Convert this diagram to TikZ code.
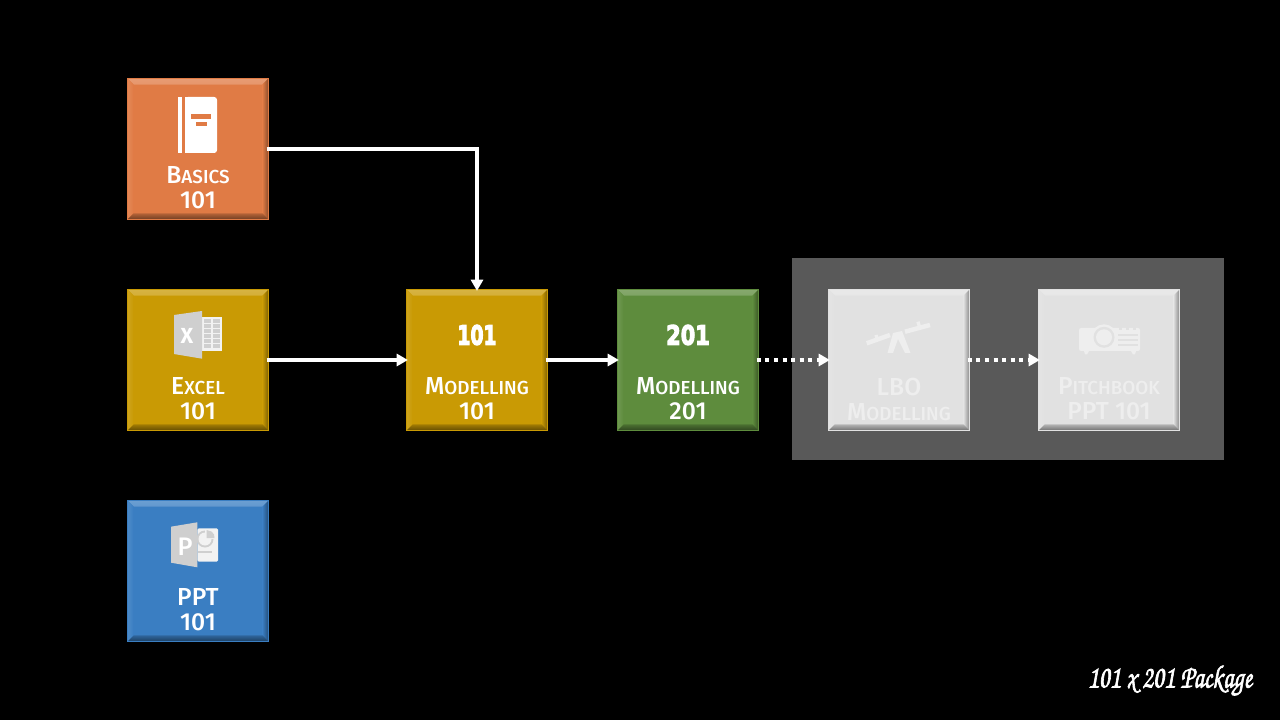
\documentclass[tikz,border=0pt]{standalone}
\usepackage{fontspec}
\setmainfont{Fira Sans}[UprightFont=* Medium, BoldFont=* Bold]
\newfontfamily\numfont{DejaVu Sans}[UprightFont=* Bold]
\usetikzlibrary{arrows.meta}

\definecolor{basicsorange}{HTML}{E07B45}
\definecolor{tilegold}{HTML}{C99A04}
\definecolor{tilegreen}{HTML}{5E8C3D}
\definecolor{tileblue}{HTML}{3A7EC2}
\definecolor{tilegray}{HTML}{E1E1E1}
\definecolor{fadedtext}{HTML}{EEEEEE}
\definecolor{iconcover}{HTML}{CFCFCF}
\definecolor{iconsheet}{HTML}{F2F2F2}

\newcommand{\smcap}[2]{#1{\fontsize{13.4}{13.4}\selectfont #2}}
\newcommand{\heavytext}[2]{\special{pdf:code q 2 Tr #1 w 1 1 1 RG 1 1 1 rg}#2\special{pdf:code Q}}

\tikzset{
  tile/.style={
    fill=#1, draw=#1, line width=0.4pt, minimum size=3.52cm, inner sep=0pt,
    path picture={
      \coordinate (nw) at (path picture bounding box.north west);
      \coordinate (ne) at (path picture bounding box.north east);
      \coordinate (sw) at (path picture bounding box.south west);
      \coordinate (se) at (path picture bounding box.south east);
      \coordinate (inw) at ([shift={(0.15cm,-0.15cm)}]nw);
      \coordinate (ine) at ([shift={(-0.15cm,-0.15cm)}]ne);
      \coordinate (isw) at ([shift={(0.15cm,0.15cm)}]sw);
      \coordinate (ise) at ([shift={(-0.15cm,0.15cm)}]se);
      \shade[top color=#1!75!white, bottom color=#1!80!white] (nw) -- (ne) -- (ine) -- (inw) -- cycle;
      \shade[left color=#1!90!white, right color=#1] (nw) -- (sw) -- (isw) -- (inw) -- cycle;
      \shade[left color=#1, right color=#1!62!black] (ne) -- (se) -- (ise) -- (ine) -- cycle;
      \shade[top color=#1!80!black, bottom color=#1!50!black] (sw) -- (se) -- (ise) -- (isw) -- cycle;
    }
  },
  tiletext/.style={text=white, align=center, font=\fontsize{17.5}{17.8}\selectfont, inner sep=0pt},
  fadedtiletext/.style={tiletext, text=fadedtext},
  bignum/.style={text=white, font=\numfont\fontsize{19}{20}\selectfont, inner sep=0pt},
  link/.style={white, line width=0.1cm, shorten <=-0.05cm, shorten >=-0.04cm, -{Triangle[length=0.28cm,width=0.3cm]}},
  dotlink/.style={link, dash pattern=on 0.1cm off 0.115cm}
}

\begin{document}
\begin{tikzpicture}[x=0.025cm,y=-0.025cm]
  \fill[black] (0,0) rectangle (1280,720);
  \useasboundingbox (0,0) rectangle (1280,720);
  \fill[black!65] (792,258) rectangle (1224,460);

  % tiles
  \node[tile=basicsorange] (basics) at (198,149) {};
  \node[tile=tilegold] (excel) at (198,360) {};
  \node[tile=tileblue] (ppt) at (198,571) {};
  \node[tile=tilegold] (modA) at (477,360) {};
  \node[tile=tilegreen] (modB) at (688,360) {};
  \node[tile=tilegray] (lbo) at (899,360) {};
  \node[tile=tilegray] (pitch) at (1109,360) {};

  % labels
  \node[tiletext] (basicstext) at (198,188) {\smcap{B}{ASICS}\\101};
  \node[tiletext] (exceltext) at (198,399) {\smcap{E}{XCEL}\\101};
  \node[tiletext] (ppttext) at (198,610) {PPT\\101};
  \node[tiletext] (modAtext) at (477,399) {\smcap{M}{ODELLING}\\101};
  \node[tiletext] (modBtext) at (688,399) {\smcap{M}{ODELLING}\\201};
  \node[fadedtiletext] (lbotext) at (899,399) {LBO\\\smcap{M}{ODELLING}};
  \node[fadedtiletext] (pitchtext) at (1109,399) {\smcap{P}{ITCHBOOK}\\PPT 101};
  \node[bignum, xscale=0.7] (modAnum) at (477,335) {\heavytext{0.9}{101}};
  \node[bignum, xscale=0.78] (modBnum) at (688,335) {\heavytext{0.9}{201}};

  % connectors
  \draw[link] (basics.east) -| (modA.north);
  \draw[link] (excel.east) -- (modA.west);
  \draw[link] (modA.east) -- (modB.west);
  \draw[dotlink] (modB.east) -- (lbo.west);
  \draw[dotlink] (lbo.east) -- (pitch.west);

  % book
  \fill[white] (178,97) rectangle (182,153);
  \fill[white, rounded corners=2pt] (185,97) -- (217,97) -- (217,153) -- (185,153) -- cycle;
  \fill[white] (185,97) rectangle (190,153);
  \fill[basicsorange] (191,114) rectangle (211,118.7);
  \fill[basicsorange] (195.7,122.3) rectangle (207,125.7);

  % excel
  \fill[iconsheet] (202,317.3) rectangle (221.7,350.7);
  \foreach \row in {0,...,5} {
    \fill[iconcover] (204,{319.5+\row*5}) rectangle (211,{323+\row*5});
    \fill[iconcover] (212.5,{319.5+\row*5}) rectangle (219.5,{323+\row*5});
  }
  \fill[iconcover] (174,315) -- (202,311) -- (202,358.7) -- (174,354) -- cycle;
  \node[text=white, font=\fontsize{15.5}{16}\bfseries\selectfont, inner sep=0pt] (excelx) at (187,335.5) {X};

  % powerpoint
  \fill[iconsheet, rounded corners=1pt] (197.3,528.3) rectangle (218,561.7);
  \fill[iconcover] (205,539) circle[radius=8.5];
  \fill[iconsheet] (205,539) circle[radius=6.5];
  \fill[iconsheet] (205,539) rectangle (216,529);
  \fill[iconcover] (206.5,538) -- (206.5,530) -- (211.5,531.5) -- (214,534.5) -- (214.5,538) -- cycle;
  \draw[iconcover, line width=1pt] (198,552) -- (212,552);
  \fill[iconcover] (171,526.7) -- (197.3,522.3) -- (197.3,567.3) -- (171,562.7) -- cycle;
  \node[text=white, font=\fontsize{18}{18}\selectfont, inner sep=0pt] (pptp) at (185,546.5) {P};

  % seesaw
  \draw[fadedtext, line width=3.2pt] (866.7,343.3) -- (890,335);
  \draw[fadedtext, line width=3.2pt] (905,331.7) -- (930,325);
  \draw[fadedtext, line width=2.4pt] (876,335) -- (877.5,340);
  \draw[fadedtext, line width=2.4pt] (918,321.7) -- (919.5,327);
  \fill[fadedtext] (893,333) -- (902,331) -- (910.5,353) -- (905,353) -- (898,339) -- (893,353) -- (887.5,353) -- cycle;

  % projector
  \fill[fadedtext, rounded corners=1.5pt] (1079,328) -- (1140,328) -- (1140,351) -- (1079,351) -- cycle;
  \fill[fadedtext] (1084,351) -- (1089,351) -- (1087,354.5) -- (1085,354.5) -- cycle;
  \fill[fadedtext] (1131,351) -- (1136,351) -- (1135,354.5) -- (1133,354.5) -- cycle;
  \foreach \gap in {1119,1126,1133} {
    \fill[tilegray] (\gap,327.5) rectangle (\gap+3,330);
  }
  \fill[fadedtext] (1104,337.3) circle[radius=13];
  \fill[tilegray] (1104,337.3) circle[radius=10.5];
  \fill[fadedtext] (1104,337.3) circle[radius=8];
  \foreach \ypos in {334.5,339.5,344.5} {
    \fill[tilegray] (1118,\ypos) rectangle (1138,\ypos+1.6);
  }

  % caption
  \node[text=white, xscale=0.77, font=\usefont{OT1}{pzc}{mb}{it}\fontsize{23}{23}\selectfont, inner sep=0pt] (caption) at (1170,681) {\heavytext{0.55}{101 x 201 Package}};
\end{tikzpicture}
\end{document}
